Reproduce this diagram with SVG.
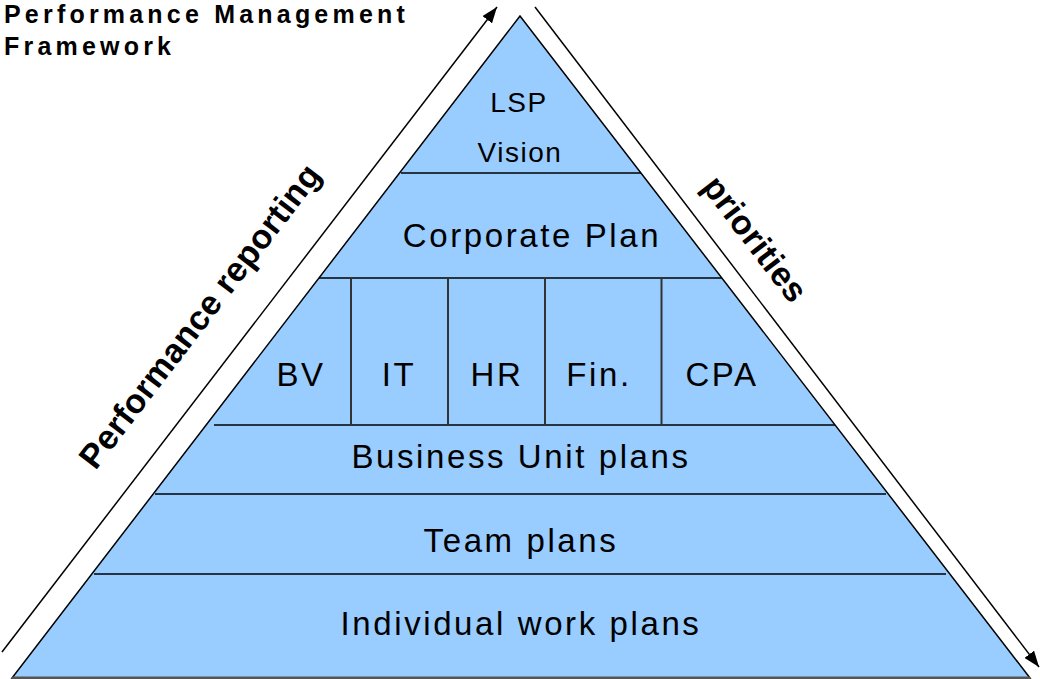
<svg xmlns="http://www.w3.org/2000/svg" width="1040" height="679" viewBox="0 0 1040 679">
<style>
.lbl{font-family:"Liberation Sans",Arial,sans-serif;font-size:33px;fill:#000;text-anchor:middle;letter-spacing:2.6px}
.sm{font-size:28px;letter-spacing:1.5px}
.side{font-family:"Liberation Sans",Arial,sans-serif;font-weight:bold;font-size:34px;fill:#000;text-anchor:middle;letter-spacing:0.3px}
.title{font-family:"Liberation Sans",Arial,sans-serif;font-weight:bold;font-size:25px;fill:#000;letter-spacing:4.2px}
.band{stroke:#000;stroke-width:1.5}
.div{stroke:#333;stroke-width:2}
.arrow{stroke:#000;stroke-width:1.5;fill:none;marker-end:url(#ah)}
</style>
<defs>
<marker id="ah" viewBox="0 0 16 12" refX="16" refY="6" markerWidth="16" markerHeight="12" markerUnits="userSpaceOnUse" orient="auto">
<path d="M0,0 L16,6 L0,12 z" fill="#000"/>
</marker>
</defs>
<rect width="1040" height="679" fill="#fff"/>
<g id="title">
<text class="title" x="4" y="23">Performance Management</text>
<text class="title" x="4" y="55">Framework</text>
</g>
<g id="pyramid">
<polygon points="520,16 12,678 1030,678" fill="#99CCFF" stroke="#000" stroke-width="1.5"/>
<line x1="12" y1="678" x2="1030" y2="678" stroke="#555" stroke-width="3"/>
</g>
<g id="bands">
<line class="band" x1="401" y1="173" x2="641" y2="173"/>
<line class="band" x1="319" y1="278" x2="722" y2="278"/>
<line class="band" x1="214" y1="425" x2="835" y2="425"/>
<line class="band" x1="155" y1="494" x2="886" y2="494"/>
<line class="band" x1="94" y1="574" x2="946" y2="574"/>
<line class="div" x1="351" y1="278" x2="351" y2="425"/>
<line class="div" x1="448" y1="278" x2="448" y2="425"/>
<line class="div" x1="545" y1="278" x2="545" y2="425"/>
<line class="div" x1="661.5" y1="278" x2="661.5" y2="425"/>
</g>
<g id="lsp"><text class="lbl sm" x="519" y="112">LSP</text></g>
<g id="vision"><text class="lbl sm" x="520" y="162">Vision</text></g>
<g id="corporate"><text class="lbl" x="532" y="247">Corporate Plan</text></g>
<g id="bv"><text class="lbl" x="301" y="386">BV</text></g>
<g id="it"><text class="lbl" x="399" y="386">IT</text></g>
<g id="hr"><text class="lbl" x="497" y="386">HR</text></g>
<g id="fin"><text class="lbl" x="599" y="386">Fin.</text></g>
<g id="cpa"><text class="lbl" x="722" y="386">CPA</text></g>
<g id="business"><text class="lbl" x="521" y="468">Business Unit plans</text></g>
<g id="team"><text class="lbl" x="521" y="552">Team plans</text></g>
<g id="individual"><text class="lbl" x="521" y="635">Individual work plans</text></g>
<g id="connectors">
<line class="arrow" x1="2" y1="652" x2="497" y2="7"/>
<line class="arrow" x1="535" y1="7" x2="1039" y2="667"/>
</g>
<g id="perf-reporting"><text class="side" transform="translate(209,323) rotate(-52.5)">Performance reporting</text></g>
<g id="priorities"><text class="side" transform="translate(746,246) rotate(52.6)">priorities</text></g>
</svg>
